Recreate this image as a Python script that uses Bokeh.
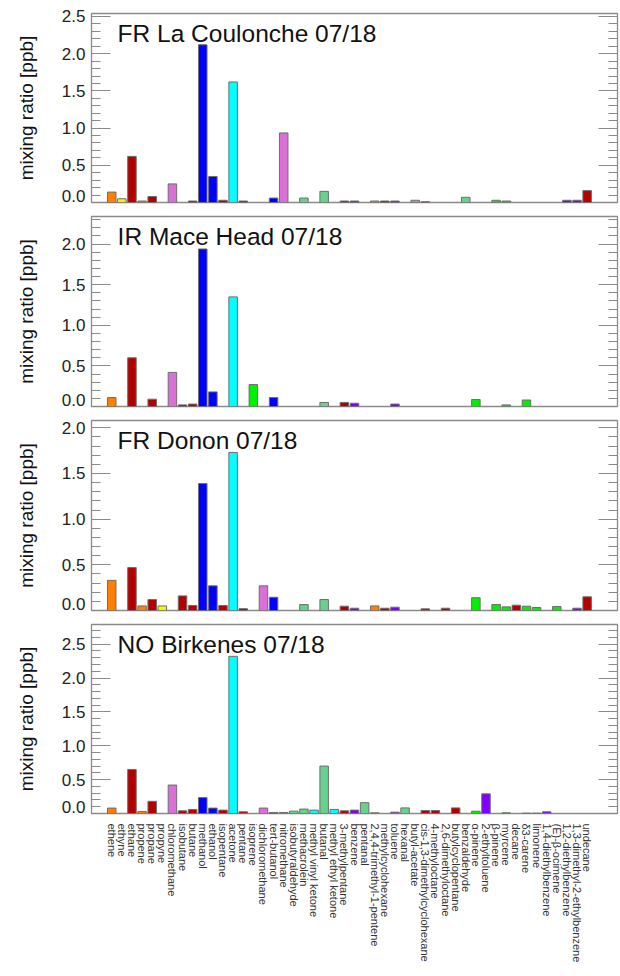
from bokeh.plotting import figure
from bokeh.models import (Range1d, LinearAxis, FixedTicker, CustomJSTickFormatter,
                          Label, ColumnDataSource)
from bokeh.layouts import column
from bokeh.embed import file_html
from bokeh.resources import INLINE

# ---------------- data ----------------
compounds = [
    "ethene", "ethyne", "ethane", "propene", "propane", "propyne", "chloromethane",
    "isobutane", "butane", "methanol", "ethanol", "isopentane", "acetone", "pentane",
    "isoprene", "dichloromethane", "tert-butanol", "nitromethane", "isobutyraldehyde",
    "methacrolein", "methyl vinyl ketone", "butanal", "methyl ethyl ketone",
    "3-methylpentane", "benzene", "pentanal", "2,4,4-trimethyl-1-pentene",
    "methylcyclohexane", "toluene", "hexanal", "butyl-acetate",
    "cis-1,3-dimethylcyclohexane", "4-methyloctane", "2,6-dimethyloctane",
    "butylcyclopentane", "benzaldehyde", "α-pinene", "2-ethyltoluene", "β-pinene",
    "myrcene", "decane", "δ3-carene", "limonene", "1,4-diethylbenzene",
    "(E)-β-ocimene", "1,2-diethylbenzene", "1,3-dimethyl-2-ethylbenzene", "undecane",
]

classes = [
    "alkene", "alkyne", "alkane", "alkene", "alkane", "alkyne", "halo",
    "alkane", "alkane", "alcohol", "alcohol", "alkane", "ketone", "alkane",
    "terpene", "halo", "alcohol", "halo", "aldehyde",
    "aldehyde", "ketone", "aldehyde", "ketone",
    "alkane", "aromatic", "aldehyde", "alkene",
    "alkane", "aromatic", "aldehyde", "ester",
    "alkane", "alkane", "alkane",
    "alkane", "aldehyde", "terpene", "aromatic", "terpene",
    "terpene", "alkane", "terpene", "terpene", "aromatic",
    "terpene", "aromatic", "aromatic", "alkane",
]

la_coulonche = [0.14, 0.05, 0.62, 0.02, 0.08, 0.0, 0.25, 0.0, 0.02, 2.12, 0.35, 0.03,
                1.62, 0.02, 0.0, 0.0, 0.06, 0.935, 0.0, 0.06, 0.0, 0.15, 0.0, 0.02,
                0.02, 0.0, 0.02, 0.02, 0.02, 0.0, 0.03, 0.01, 0.0, 0.0, 0.0, 0.07,
                0.0, 0.0, 0.03, 0.02, 0.0, 0.0, 0.0, 0.0, 0.0, 0.03, 0.03, 0.16]

mace_head = [0.11, 0.0, 0.60, 0.0, 0.09, 0.0, 0.42, 0.02, 0.03, 1.94, 0.18, 0.0,
             1.35, 0.0, 0.27, 0.0, 0.11, 0.0, 0.0, 0.0, 0.0, 0.05, 0.0, 0.05,
             0.04, 0.0, 0.0, 0.0, 0.03, 0.0, 0.0, 0.0, 0.0, 0.0, 0.0, 0.0,
             0.086, 0.0, 0.0, 0.02, 0.0, 0.08, 0.0, 0.0, 0.0, 0.0, 0.0, 0.0]

donon = [0.33, 0.0, 0.47, 0.05, 0.12, 0.05, 0.0, 0.16, 0.055, 1.39, 0.27, 0.055,
         1.73, 0.02, 0.0, 0.27, 0.145, 0.0, 0.0, 0.065, 0.0, 0.12, 0.0, 0.047,
         0.025, 0.0, 0.05, 0.025, 0.036, 0.0, 0.0, 0.018, 0.0, 0.025, 0.0, 0.0,
         0.14, 0.0, 0.066, 0.04, 0.058, 0.047, 0.033, 0.0, 0.044, 0.0, 0.025, 0.15]

birkenes = [0.08, 0.0, 0.65, 0.03, 0.18, 0.0, 0.42, 0.04, 0.06, 0.235, 0.08, 0.05,
            2.32, 0.025, 0.0, 0.08, 0.015, 0.015, 0.035, 0.065, 0.05, 0.70, 0.06, 0.04,
            0.05, 0.16, 0.01, 0.0, 0.02, 0.083, 0.0, 0.044, 0.044, 0.0, 0.083, 0.0,
            0.034, 0.29, 0.0, 0.01, 0.0, 0.005, 0.005, 0.025, 0.0, 0.0, 0.0, 0.0]

panel_titles = ["FR La Coulonche 07/18", "IR Mace Head 07/18",
                "FR Donon 07/18", "NO Birkenes 07/18"]
panel_values = [la_coulonche, mace_head, donon, birkenes]
y_tops = [2.54, 2.34, 2.08, 2.79]

# y ticks (major every 0.5 labelled, minor every 0.1)
major_tick_values = [0.5, 1.0, 1.5, 2.0, 2.5]
minor_tick_values = [round(0.1 * i, 1) for i in range(1, 28) if i % 5 != 0]
zero_label = "0.0"

# ---------------- style ----------------
class_colors = {
    "alkane": "#b40000", "alkene": "#ff7f00", "alkyne": "#f5f500",
    "halo": "#da70d6", "alcohol": "#0000ff", "ketone": "#00ffff",
    "aldehyde": "#66d28e", "terpene": "#00f000", "aromatic": "#8000ff",
    "ester": "#c888c8",
}
FONT = "Liberation Sans"
GREY = "#8a8a8a"
W = 620
X0, X1 = -2, 50
# (border_top, frame_height, border_bottom)
layout_spec = [(13, 189, 7), (7, 190, 7), (7, 190, 7), (7, 189, 163)]
ZERO_LIFT_PX = 6.5   # the "0.0" label sits a little above the frame bottom


def tick_only_axis(ax):
    ax.ticker = FixedTicker(ticks=major_tick_values, minor_ticks=minor_tick_values)
    ax.axis_line_color = None
    ax.major_tick_in = 19
    ax.major_tick_out = 0
    ax.minor_tick_in = 9
    ax.minor_tick_out = 0
    ax.major_tick_line_color = GREY
    ax.minor_tick_line_color = GREY
    ax.major_tick_line_width = 1.2
    ax.minor_tick_line_width = 1.2
    ax.major_label_text_color = None
    ax.major_label_text_font_size = "1px"
    ax.major_label_standoff = 0


figs = []
for k, (title, vals, ytop) in enumerate(zip(panel_titles, panel_values, y_tops)):
    bt, fh, bb = layout_spec[k]
    p = figure(width=W, height=bt + fh + bb, output_backend="svg", toolbar_location=None,
               x_range=Range1d(X0, X1), y_range=Range1d(0, ytop),
               min_border_left=91, min_border_right=3, min_border_top=bt,
               min_border_bottom=bb, background_fill_color="white",
               border_fill_color="white", y_axis_location=None)
    p.outline_line_color = GREY
    p.outline_line_width = 1.3
    p.xgrid.visible = False
    p.ygrid.visible = False

    xs = [i for i, v in enumerate(vals) if v > 0]
    src = ColumnDataSource(dict(
        x=xs,
        top=[vals[i] for i in xs],
        color=[class_colors[classes[i]] for i in xs],
    ))
    p.vbar(x="x", top="top", bottom=0, width=0.84, fill_color="color",
           line_color="#6e6e6e", line_width=1, source=src)

    px_per_unit = fh / ytop
    z = ZERO_LIFT_PX / px_per_unit

    # inner left axis: tick marks only
    ta = LinearAxis()
    tick_only_axis(ta)
    p.add_layout(ta, "left")

    # outer left axis: tick labels (0.0 lifted above the bottom edge) + axis title
    la = LinearAxis(ticker=FixedTicker(ticks=[z] + major_tick_values, minor_ticks=[]),
                    formatter=CustomJSTickFormatter(
                        args=dict(z=z, zero=zero_label),
                        code="return (Math.abs(tick - z) < 1e-9) ? zero : tick.toFixed(1);"))
    la.axis_line_color = None
    la.major_tick_line_color = None
    la.minor_tick_line_color = None
    la.major_tick_in = 0
    la.major_tick_out = 0
    la.major_label_standoff = 6
    la.major_label_text_font = FONT
    la.major_label_text_font_size = "17px"
    la.major_label_text_color = "#222222"
    la.axis_label = "mixing ratio [ppb]"
    la.axis_label_text_font = FONT
    la.axis_label_text_font_size = "19px"
    la.axis_label_text_font_style = "normal"
    la.axis_label_text_color = "#111111"
    la.axis_label_standoff = 22
    p.add_layout(la, "left")

    # right axis (ticks only)
    ra = LinearAxis()
    tick_only_axis(ra)
    p.add_layout(ra, "right")

    # x axis
    xa = p.xaxis[0]
    if k < 3:
        xa.visible = False
    else:
        xa.ticker = FixedTicker(ticks=list(range(len(compounds))))
        xa.major_label_overrides = {i: c for i, c in enumerate(compounds)}
        xa.major_label_orientation = "vertical"
        xa.axis_line_color = None
        xa.major_tick_line_color = None
        xa.major_tick_in = 0
        xa.major_tick_out = 0
        xa.major_label_standoff = 10
        xa.major_label_text_font = FONT
        xa.major_label_text_font_size = "11px"
        xa.major_label_text_color = "#333333"

    # panel title
    p.add_layout(Label(x=0.58, y=ytop - 6.5 / px_per_unit, text=title,
                       text_font=FONT, text_font_size="24.5px", text_baseline="top",
                       text_align="left", text_color="#111111"))
    figs.append(p)

layout = column(*figs, spacing=0)
open("out.html", "w").write(file_html(layout, INLINE))
